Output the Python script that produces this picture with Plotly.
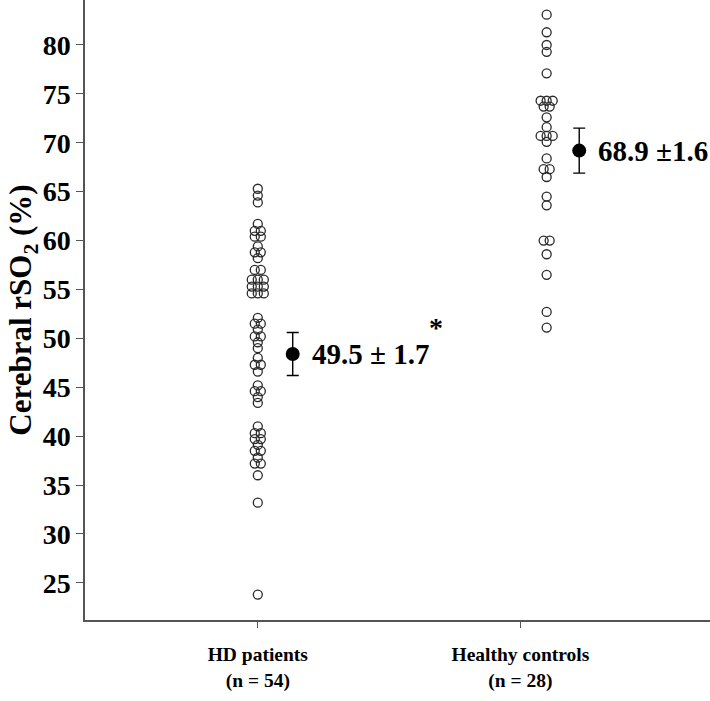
import plotly.graph_objects as go
from collections import Counter

groups = ["HD patients<br>(n = 54)", "Healthy controls<br>(n = 28)"]

hd_values = [65.3, 64.6, 63.9, 61.7, 61.0, 61.0, 60.4, 60.4, 59.4, 58.8, 58.8, 58.2,
             57.0, 57.0, 56.0, 56.0, 56.0, 55.3, 55.3, 55.3, 54.6, 54.6, 54.6,
             52.1, 51.5, 51.5, 50.9, 50.2, 50.2, 49.6, 49.0, 48.0, 47.3, 47.3, 46.6,
             45.2, 44.6, 44.6, 44.0, 43.4, 41.0, 40.3, 40.3, 39.7, 39.7, 39.1,
             38.5, 38.5, 37.8, 37.2, 37.2, 36.0, 33.2, 23.8]
hc_values = [83.1, 81.3, 80.0, 79.3, 77.1, 74.3, 74.3, 74.3, 73.7, 73.7, 72.6, 71.6,
             70.7, 70.7, 70.7, 70.1, 68.4, 67.3, 67.3, 66.5, 64.5, 63.6, 60.0, 60.0,
             58.6, 56.5, 52.7, 51.1]

means = [48.4, 69.2]
errs = [2.2, 2.3]
mean_labels = ["49.5 ± 1.7", "68.9 ±1.6"]
sig_marks = ["*", ""]

SERIF = "Liberation Serif"
# layout offsets (in x-axis units) of each group's columns relative to its tick
point_offset = [0.0, 0.10]
mean_offset = [0.133, 0.224]
label_gap = 0.065


def stacked_x(values, center, dx=0.023):
    counts = Counter(values)
    seen = Counter()
    xs = []
    for v in values:
        n = counts[v]
        i = seen[v]
        seen[v] += 1
        xs.append(center + (i - (n - 1) / 2) * dx)
    return xs


fig = go.Figure()
for k, vals in enumerate([hd_values, hc_values]):
    fig.add_trace(go.Scatter(
        x=stacked_x(vals, k + 1 + point_offset[k]), y=vals, mode="markers",
        marker=dict(symbol="circle-open", size=9, color="#2a2a2a", line=dict(width=1.3)),
        showlegend=False, hoverinfo="y"))

mx = [k + 1 + mean_offset[k] for k in range(2)]
fig.add_trace(go.Scatter(
    x=mx, y=means, mode="markers",
    marker=dict(symbol="circle", size=14, color="black"),
    error_y=dict(type="data", array=errs, color="black", thickness=1.4, width=6),
    showlegend=False))

for k in range(2):
    fig.add_annotation(x=mx[k] + label_gap, y=means[k], xref="x", yref="y",
                       text="<b>" + mean_labels[k] + "</b>", showarrow=False,
                       xanchor="left", yanchor="middle",
                       font=dict(family=SERIF, size=29, color="black"))
    if sig_marks[k]:
        fig.add_annotation(x=mx[k] + label_gap, y=means[k], xref="x", yref="y",
                           text="<b>" + sig_marks[k] + "</b>", showarrow=False,
                           xanchor="left", yanchor="middle", xshift=117, yshift=27,
                           font=dict(family=SERIF, size=28, color="black"))

fig.update_layout(
    width=710, height=701,
    margin=dict(l=85, r=0, t=0, b=81),
    plot_bgcolor="white", paper_bgcolor="white",
    font=dict(family=SERIF, color="black"),
    xaxis=dict(range=[0.342, 2.722], tickvals=[1, 2], automargin=False,
               ticktext=["<b>" + g + "</b>" for g in groups],
               tickfont=dict(family=SERIF, size=19.5, color="black"),
               ticklabelstandoff=10,
               showgrid=False, zeroline=False, showline=True, linecolor="#555555",
               linewidth=1.5, ticks="outside", ticklen=6, tickcolor="#555555"),
    yaxis=dict(range=[21.2, 84.6], tickvals=list(range(25, 85, 5)), automargin=False,
               ticktext=["<b>%d</b>" % v for v in range(25, 85, 5)],
               tickfont=dict(family=SERIF, size=28, color="black"),
               title=dict(text="<b>Cerebral rSO<sub>2</sub> (%)</b>",
                          font=dict(family=SERIF, size=31, color="black"), standoff=0),
               showgrid=False, zeroline=False, showline=True, linecolor="#555555",
               linewidth=1.5, ticks="outside", ticklen=7, tickcolor="#555555"),
)

fig.write_html("out.html", config={"displayModeBar": False},
               post_script="document.body.style.margin='0';")
